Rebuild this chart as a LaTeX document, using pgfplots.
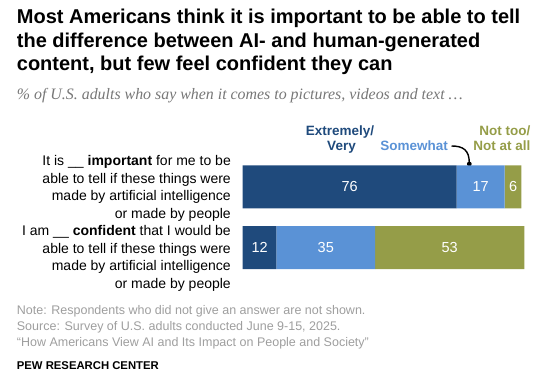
\documentclass[border=0pt]{standalone}
\usepackage{fontspec}
\setmainfont{Liberation Sans}
\newfontfamily\serifit{Liberation Serif}
\usepackage{pgfplots}
\pgfplotsset{compat=1.18}
\definecolor{dblue}{HTML}{1F4A7C}
\definecolor{lblue}{HTML}{5A92D6}
\definecolor{olive}{HTML}{959D48}
\definecolor{notegray}{HTML}{9E9E9E}
\definecolor{subgray}{HTML}{777777}
\begin{document}
\begin{tikzpicture}[x=1pt,y=1pt]
\useasboundingbox (0,0) rectangle (553,387);
% title
\begin{scope}[every node/.style={anchor=base west, inner sep=0pt, font=\fontsize{20}{23.5}\selectfont\bfseries}]
\node at (16.7,363) {Most Americans think it is important to be able to tell};
\node at (16.7,339.5) {the difference between AI- and human-generated};
\node at (16.7,316) {content, but few feel confident they can};
\end{scope}
\node[anchor=base west, inner sep=0pt, text=subgray, font=\fontsize{15.9}{18}\selectfont\serifit\itshape] at (16.7,287) {\% of U.S. adults who say when it comes to pictures, videos and text \dots};
% row labels
\begin{scope}[every node/.style={anchor=base east, inner sep=0pt, font=\fontsize{14}{17.7}\selectfont}]
\node at (231,221.5) {It is \_\_ \textbf{important} for me to be};
\node at (231,203.8) {able to tell if these things were};
\node at (231,186.1) {made by artificial intelligence};
\node at (231,168.4) {or made by people};
\node at (231,151.5) {I am \_\_ \textbf{confident} that I would be};
\node at (231,133.8) {able to tell if these things were};
\node at (231,116.1) {made by artificial intelligence};
\node at (231,98.4) {or made by people};
\end{scope}
% legend labels
\begin{scope}[every node/.style={inner sep=0pt, font=\fontsize{13.5}{15.5}\selectfont\bfseries}]
\node[anchor=base, text=dblue] at (340,251.3) {Extremely/};
\node[anchor=base, text=dblue] at (341.5,236) {Very};
\node[anchor=base east, text=lblue] at (448,236) {Somewhat};
\node[anchor=base east, text=olive] at (530.5,251.3) {Not too/};
\node[anchor=base east, text=olive] at (530.5,236) {Not at all};
\end{scope}
\draw[line width=1.4pt] (451.5,241) .. controls (463,241) and (469.3,237) .. (469.3,224);
\fill (469.3,223) circle (2.4);
% notes
\begin{scope}[every node/.style={anchor=base west, inner sep=0pt, text=notegray, font=\fontsize{12.5}{16}\selectfont}]
\node at (16.7,72.7) {Note: Respondents who did not give an answer are not shown.};
\node at (16.7,56.3) {Source: Survey of U.S. adults conducted June 9-15, 2025.};
\node at (16.7,40.3) {``How Americans View AI and Its Impact on People and Society''};
\end{scope}
\node[anchor=base west, inner sep=0pt, font=\fontsize{11.3}{13}\selectfont\bfseries] at (16.7,17) {PEW RESEARCH CENTER};
% bars
\begin{axis}[at={(242.7pt,108.95pt)}, anchor=south west, scale only axis,
  width=281.6pt, height=121.4pt, xmin=0, xmax=100, ymin=-0.5, ymax=1.5,
  hide axis, xbar stacked, bar width=43pt, clip=false]
\addplot[fill=dblue, draw=none] coordinates {(76,1) (12,0)};
\addplot[fill=lblue, draw=none] coordinates {(17,1) (35,0)};
\addplot[fill=olive, draw=none] coordinates {(6,1) (53,0)};
\end{axis}
\begin{axis}[at={(242.7pt,108.95pt)}, anchor=south west, scale only axis,
  width=281.6pt, height=121.4pt, xmin=0, xmax=100, ymin=-0.5, ymax=1.5,
  hide axis, clip=false]
\addplot[draw=none, mark=none, nodes near coords, point meta=explicit symbolic,
  every node near coord/.append style={anchor=center, text=white, inner sep=0pt,
  font=\fontsize{14.5}{16}\selectfont}]
  coordinates {(38,1)[76] (84.5,1)[17] (96,1)[6] (6,0)[12] (29.5,0)[35] (73.5,0)[53]};
\end{axis}
\end{tikzpicture}
\end{document}
